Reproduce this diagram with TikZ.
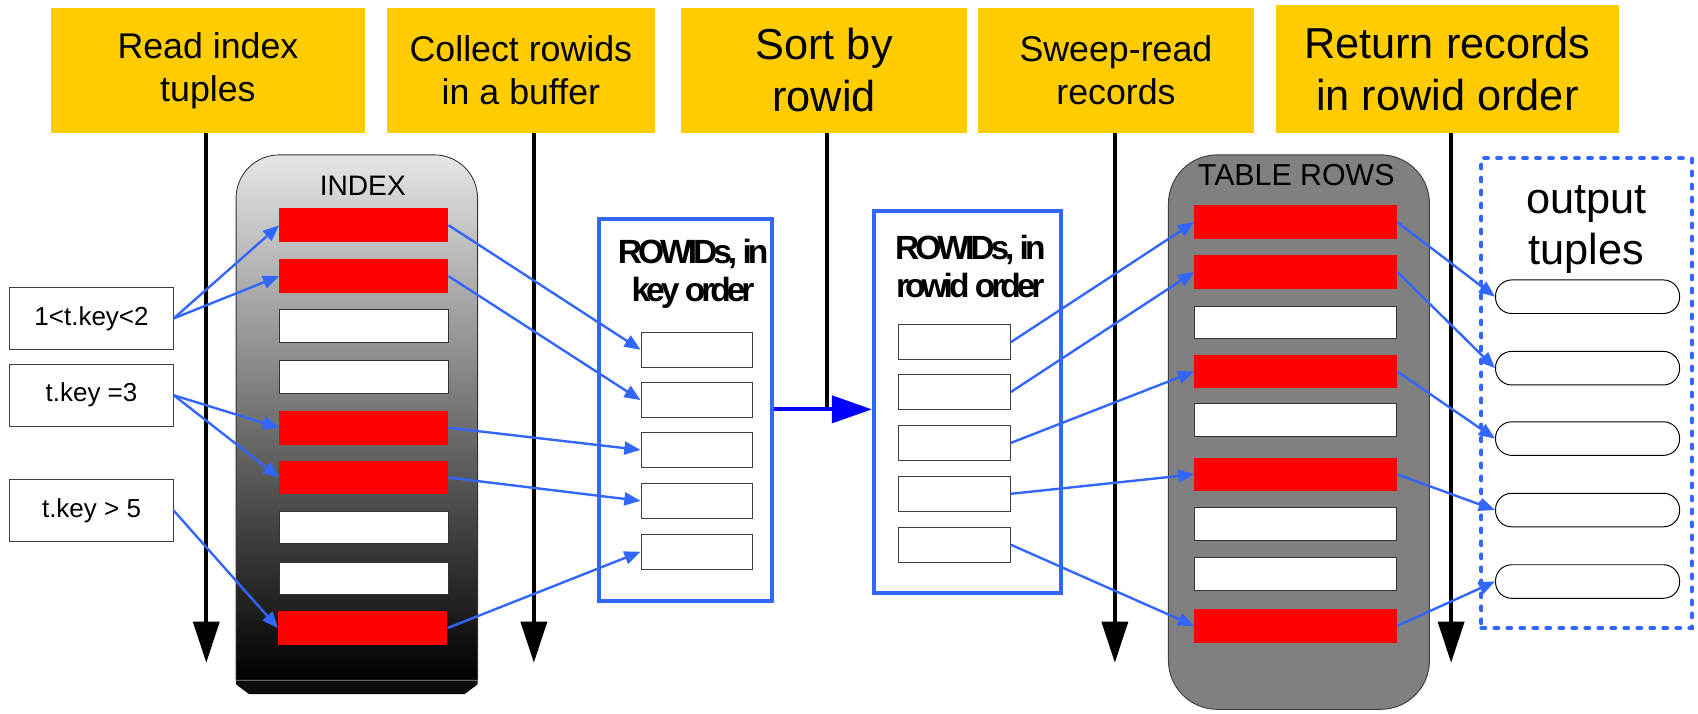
\documentclass[tikz,border=0pt]{standalone}
\usepackage{fontspec}
\setmainfont{Liberation Sans}
\newfontfamily\tightsans[LetterSpace=-12]{Liberation Sans}
\usetikzlibrary{arrows.meta}

\definecolor{stageyellow}{HTML}{FFCC00}
\definecolor{linkblue}{HTML}{3366FF}
\definecolor{sortblue}{HTML}{0000FF}
\definecolor{rowred}{HTML}{FF0000}
\definecolor{tablegray}{HTML}{808080}

\newcommand{\fs}[1]{\fontsize{#1}{1.2\dimexpr#1pt\relax}\selectfont}

\tikzset{
  stage/.style={fill=stageyellow, inner sep=0pt, align=center},
  flow/.style={draw=black, line width=3.5pt, -{Triangle[length=38pt,width=24pt]}},
  link/.style={draw=linkblue, line width=2.2pt, -{Triangle[length=15pt,width=12pt]}},
  hitrow/.style={fill=rowred, minimum width=156pt, minimum height=31pt, inner sep=0pt},
  missrow/.style={fill=white, draw=black!80, line width=0.9pt, minimum width=156pt, minimum height=30pt, inner sep=0pt},
  cond/.style={draw=black!75, line width=0.9pt, fill=white, minimum width=151pt, minimum height=57pt, inner sep=0pt, font=\fs{24}},
  slot/.style={draw=black!75, line width=0.9pt, fill=white, minimum width=103pt, minimum height=32pt, inner sep=0pt},
  buffer/.style={draw=linkblue, line width=3.7pt, inner sep=0pt},
  pill/.style={draw=black, line width=0.9pt, fill=white, rounded corners=15pt, minimum width=170pt, minimum height=31pt, inner sep=0pt},
  title/.style={align=center, inner sep=0pt, font=\tightsans\bfseries\fontsize{31}{35}\selectfont},
}

\begin{document}
\begin{tikzpicture}[x=1pt,y=-1pt]
\useasboundingbox (0,0) rectangle (1568,659);

% stage headers
\node[stage, minimum width=290pt, minimum height=116pt, font=\fs{33}] (s1) at (192,65) {Read index\\tuples};
\node[stage, minimum width=248pt, minimum height=116pt, font=\fs{33}] (s2) at (481,65) {Collect rowids\\in a buffer};
\node[stage, minimum width=264pt, minimum height=116pt, font=\fs{40}] (s3) at (761,65) {Sort by\\rowid};
\node[stage, minimum width=255pt, minimum height=116pt, font=\fs{33}] (s4) at (1030.5,65) {Sweep-read\\records};
\node[stage, minimum width=317pt, minimum height=118pt, font=\fs{40}] (s5) at (1336.5,64) {Return records\\in rowid order};

% end points of the stage arrows
\coordinate (t1) at (190.5,612);
\coordinate (t2) at (493,612);
\coordinate (t3) at (764,378);
\coordinate (t4) at (1029.5,612);
\coordinate (t5) at (1340,612);

\draw[flow] (s1.south -| t1) -- (t1);
\draw[flow] (s2.south -| t2) -- (t2);
\draw[line width=3.5pt] (s3.south -| t3) -- (t3);
\draw[flow] (s4.south -| t4) -- (t4);
\draw[flow] (s5.south -| t5) -- (t5);

% index body with shaded fill
\shade[top color=black!10, bottom color=black, draw=black!80, line width=0.8pt]
  (218,628) -- (218,183) arc[start angle=180, end angle=270, radius=40]
  -- (401,143) arc[start angle=270, end angle=360, radius=40] -- (441,628) -- cycle;
\fill[black!95] (218,628) -- (441,628) -- (441,632) -- (429,641) -- (230,641) -- (218,632) -- cycle;
\draw[black!60, line width=0.6pt] (218,628) -- (441,628);
\node[font=\fs{26}] (ixlabel) at (335,172) {INDEX};

\node[hitrow]  (i1) at (336,208) {};
\node[hitrow]  (i2) at (336,255) {};
\node[missrow] (i3) at (336,301) {};
\node[missrow] (i4) at (336,348) {};
\node[hitrow]  (i5) at (336,395) {};
\node[hitrow]  (i6) at (336,441) {};
\node[missrow] (i7) at (336,487) {};
\node[missrow] (i8) at (336,534) {};
\node[hitrow]  (i9) at (335,580) {};

% search conditions
\node[cond] (c1) at (84.5,294) {1<t.key<2};
\node[cond] (c2) at (84.5,365) {t.key =3};
\node[cond] (c3) at (84.5,471.5) {t.key > 5};

% rowid buffer, key order
\node[buffer, minimum width=160pt, minimum height=353pt] (b1) at (633,378.5) {};
\node[title] (b1t) at (640,253) {ROWIDs, in\\key order};
\node[slot] (k1) at (643.5,323) {};
\node[slot] (k2) at (643.5,369.5) {};
\node[slot] (k3) at (643.5,415.5) {};
\node[slot] (k4) at (643.5,462.5) {};
\node[slot] (k5) at (643.5,509.5) {};

% rowid buffer, rowid order
\node[buffer, minimum width=173pt, minimum height=353pt] (b2) at (893.5,371.5) {};
\node[title] (b2t) at (896,246) {ROWIDs, in\\rowid order};
\node[slot] (r1) at (881.5,316) {};
\node[slot] (r2) at (881.5,362) {};
\node[slot] (r3) at (881.5,409) {};
\node[slot] (r4) at (881.5,456) {};
\node[slot] (r5) at (881.5,503) {};

\draw[draw=sortblue, line width=3.7pt, -{Triangle[length=37pt,width=25pt]}] (b1.east |- t3) -- (b2.west |- t3);

% table rows
\node[draw=black!75, line width=0.9pt, fill=tablegray, rounded corners=45pt, minimum width=241pt, minimum height=512pt, inner sep=0pt] (tbl) at (1199.5,399) {};
\node[font=\fs{28}] (tbllabel) at (1197,162) {TABLE ROWS};

\tikzset{tablerow/.style={minimum width=187pt}}
\node[hitrow, tablerow]  (d1) at (1196.5,205) {};
\node[hitrow, tablerow]  (d2) at (1196.5,251) {};
\node[missrow, tablerow] (d3) at (1196.5,298) {};
\node[hitrow, tablerow]  (d4) at (1196.5,343) {};
\node[missrow, tablerow] (d5) at (1196.5,388) {};
\node[hitrow, tablerow]  (d6) at (1196.5,438) {};
\node[missrow, tablerow] (d7) at (1196.5,484) {};
\node[missrow, tablerow] (d8) at (1196.5,530) {};
\node[hitrow, tablerow]  (d9) at (1196.5,578) {};

% output tuples
\node[draw=linkblue, line width=3.7pt, dash pattern=on 3.5pt off 8.5pt, line cap=round, minimum width=194pt, minimum height=434pt, inner sep=0pt] (out) at (1465,363) {};
\node[align=center, font=\fontsize{40}{46.5}\selectfont, inner sep=0pt] (outlabel) at (1465,212) {output\\tuples};
\node[pill] (o1) at (1466,274) {};
\node[pill] (o2) at (1466,340) {};
\node[pill] (o3) at (1466,405) {};
\node[pill] (o4) at (1466,471) {};
\node[pill] (o5) at (1466,537) {};

% conditions to index entries
\draw[link] (c1.east) -- (i1.west);
\draw[link] (c1.east) -- (i2.west);
\draw[link] (c2.east) -- (i5.west);
\draw[link] (c2.east) -- (i6.west);
\draw[link] (c3.east) -- (i9.west);

% index entries to buffer
\draw[link] (i1.east) -- (k1.west);
\draw[link] (i2.east) -- (k2.west);
\draw[link] (i5.east) -- (k3.west);
\draw[link] (i6.east) -- (k4.west);
\draw[link] (i9.east) -- (k5.west);

% sorted rowids to table rows
\draw[link] (r1.east) -- (d1.west);
\draw[link] (r2.east) -- (d2.west);
\draw[link] (r3.east) -- (d4.west);
\draw[link] (r4.east) -- (d6.west);
\draw[link] (r5.east) -- (d9.west);

% table rows to output
\draw[link] (d1.east) -- (o1.west);
\draw[link] (d2.east) -- (o2.west);
\draw[link] (d4.east) -- (o3.west);
\draw[link] (d6.east) -- (o4.west);
\draw[link] (d9.east) -- (o5.west);
\end{tikzpicture}
\end{document}
